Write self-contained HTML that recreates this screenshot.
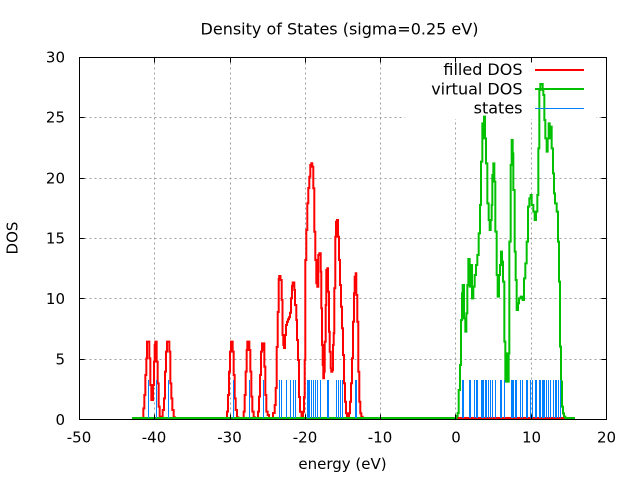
<!DOCTYPE html>
<html>
<head>
<meta charset="utf-8">
<style>
html,body{margin:0;padding:0;background:#fff;}
svg{display:block;}
text{font-family:"DejaVu Sans","Liberation Sans",sans-serif;fill:#000;}
</style>
</head>
<body>
<svg width="640" height="480" viewBox="0 0 640 480" xmlns="http://www.w3.org/2000/svg">
<rect x="0" y="0" width="640" height="480" fill="#fff"/>

<!-- grid -->
<g stroke="#a0a0a0" stroke-width="1" stroke-dasharray="2,3" fill="none">
  <path d="M154.5 57.5V419.5 M230.5 57.5V419.5 M305.5 57.5V419.5 M380.5 57.5V419.5 M455.5 57.5V419.5 M531.5 57.5V419.5"/>
  <path d="M79.5 359.5H606.5 M79.5 298.5H606.5 M79.5 238.5H606.5 M79.5 178.5H606.5 M79.5 117.5H606.5"/>
</g>

<!-- key background (opaque) -->
<rect x="405" y="58" width="191" height="61" fill="#fff"/>

<!-- filled DOS (red) -->
<g fill="none" stroke="#ff0000" stroke-width="2" stroke-linejoin="miter">
  <polyline points="132,418 575,418"/>
  <g transform="translate(125 330) scale(0.333333)">
    <polyline vector-effect="non-scaling-stroke" points="48,264 55,264 55,235 58,235 58,195 61,195 61,135 64,135 64,85 66,85 66,35 73,35 73,85 76,85 76,165 79,165 79,210 84,210 84,165 87,165 87,95 89,95 89,45 91,45 91,35 95,35 95,95 98,95 98,160 101,160 101,230 104,230 104,260 107,260 107,264 113,264 113,240 117,240 117,205 120,205 120,125 123,125 123,65 126,65 126,35 133,35 133,65 136,65 136,160 139,160 139,205 142,205 142,240 146,240 146,262 150,262 150,264"/>
    <polyline vector-effect="non-scaling-stroke" points="300,264 306,264 306,245 309,245 309,195 312,195 312,125 315,125 315,65 318,65 318,35 323,35 323,65 326,65 326,135 329,135 329,205 332,205 332,240 336,240 336,262 340,262 340,264"/>
    <polyline vector-effect="non-scaling-stroke" points="350,264 356,264 356,245 359,245 359,195 362,195 362,125 365,125 365,60 367,60 367,35 373,35 373,60 376,60 376,125 379,125 379,200 382,200 382,245 386,245 386,262 390,262 390,264"/>
    <polyline vector-effect="non-scaling-stroke" points="394,264 399,264 399,245 402,245 402,200 405,200 405,135 408,135 408,65 411,65 411,40 414,40 414,60 416,60 416,40 418,40 418,110 421,110 421,195 424,195 424,245 428,245 428,255 432,255 432,264 440,264"/>
  </g>
  <polyline points="271.7,418 273,418 273,413 274.7,413 274.7,405 275.7,405 275.7,388 276.7,388 276.7,347 277.7,347 277.7,312 278.7,312 278.7,279 279.2,279 279.2,276 280.5,276 280.5,280 281.7,280 281.7,300 282.5,300 282.5,335 283.3,335 283.3,345 284,345 284,348 285,348 285,335 286,335 286,325 287,325 287,321.7 288,321.7 288,319.3 289,319.3 289,317.3 290,317.3 290,312.7 291,312.7 291,298.3 292,298.3 292,286 292.7,286 292.7,282.5 294.3,282.5 294.3,290 295,290 295,305 296.3,305 296.3,320 297,320 297,340 298,340 298,360 299,360 299,397 300,397 300,411.7 301.5,411.7 301.5,416.7 303,416.7 303,411.7 304,411.7 304,397 304.7,397 304.7,360 305.3,360 305.3,260 306.3,260 306.3,230 307.3,230 307.3,203.3 308.3,203.3 308.3,188 309.3,188 309.3,176.7 310.3,176.7 310.3,165 311.3,165 311.3,163.3 312.3,163.3 312.3,166.7 313.3,166.7 313.3,188.3 314.3,188.3 314.3,231.7 315.3,231.7 315.3,260 316.3,260 316.3,283.3 317.3,283.3 317.3,286.7 318.3,286.7 318.3,255 319.3,255 319.3,253.3 320.7,253.3 320.7,271.7 321.3,271.7 321.3,308.3 322,308.3 322,345 322.7,345 322.7,365 323.3,365 323.3,378.3 324,378.3 324,371.7 324.7,371.7 324.7,341.7 325.7,341.7 325.7,305 326.3,305 326.3,270 327.3,270 327.3,268.3 328,268.3 328,291.7 329,291.7 329,331.7 329.7,331.7 329.7,351.7 330.7,351.7 330.7,368.3 331.3,368.3 331.3,371.7 332.3,371.7 332.3,370 333,370 333,345 333.7,345 333.7,333.3 334.3,333.3 334.3,288.3 335.3,288.3 335.3,236.7 336,236.7 336,221.7 337,221.7 337,220 338,220 338,236.7 339,236.7 339,260 340,260 340,285 341,285 341,306.7 342,306.7 342,328.3 343,328.3 343,355 344,355 344,383.3 345,383.3 345,401.7 346,401.7 346,413.3 347,413.3 347,416.7 349,416.7 349,413.3 350,413.3 350,401.7 351,401.7 351,383.3 352,383.3 352,358.3 353,358.3 353,321.7 354,321.7 354,293.3 354.7,293.3 354.7,276.7 355.7,276.7 355.7,273.3 356.3,273.3 356.3,295 357.3,295 357.3,321.7 358.3,321.7 358.3,371.7 359.3,371.7 359.3,401.7 360.3,401.7 360.3,413.3 361.3,413.3 361.3,416.7 362.7,416.7 362.7,418 364,418"/>
</g>

<!-- virtual DOS (green) -->
<g fill="none" stroke="#00c000" stroke-width="2" transform="translate(450 105) scale(0.333333)">
  <polyline vector-effect="non-scaling-stroke" points="-954,939 12,939 20,939 20,933 23,933 23,924 26,924 26,855 30,855 30,780 33,780 33,645 36,645 36,565 38,565 38,540 42,540 42,640 46,640 46,680 49,680 49,625 52,625 52,540 55,540 55,462 59,462 59,545 63,545 63,480 66,480 66,580 70,580 70,545 74,545 74,510 78,510 78,480 82,480 82,450 86,450 86,385 90,385 90,300 93,300 93,170 97,170 97,55 100,55 100,100 102,100 102,35 105,35 105,100 108,100 108,175 112,175 112,295 116,295 116,345 119,345 119,375 122,375 122,345 125,345 125,300 127,300 127,210 130,210 130,175 133,175 133,230 136,230 136,380 140,380 140,510 143,510 143,575 147,575 147,510 150,510 150,480 153,480 153,440 156,440 156,470 159,470 159,530 163,530 163,710 166,710 166,830 169,830 169,745 172,745 172,830 176,830 176,745 178,745 178,410 182,410 182,180 185,180 185,105 188,105 188,145 190,145 190,255 194,255 194,440 197,440 197,525 200,525 200,615 204,615 204,595 207,595 207,580 212,580 212,575 218,575 218,585 222,585 222,520 226,520 226,475 230,475 230,410 234,410 234,305 238,305 238,280 242,280 242,270 245,270 245,300 250,300 250,320 254,320 254,345 258,345 258,320 262,320 262,270 265,270 265,130 268,130 268,-45 271,-45 271,-63 278,-63 278,-45 280,-45 280,-30 283,-30 283,45 286,45 286,100 290,100 290,140 293,140 293,100 296,100 296,55 299,55 299,100 302,100 302,65 305,65 305,130 309,130 309,205 312,205 312,265 315,265 315,295 320,295 320,320 324,320 324,410 327,410 327,530 330,530 330,725 333,725 333,830 336,830 336,905 339,905 339,925 342,925 342,935 346,935 346,939 375,939"/>
</g>

<!-- states (blue sticks) -->
<path fill="none" stroke="#0080ff" stroke-width="1" d="
M148.5 418V380 M156.5 418V380 M168.5 418V380 M233.5 418V380 M249.5 418V380 M263.5 418V380
M279.5 418V380 M281.5 418V380 M286.5 418V380 M290.5 418V380 M293.5 418V380 M295.5 418V380
M307.5 418V380 M308.5 418V380 M309.5 418V380 M311.5 418V380 M313.5 418V380 M315.5 418V380 M317.5 418V380 M320.5 418V380
M327.5 418V380 M328.5 418V380 M336.5 418V380 M338.5 418V380 M340.5 418V380 M342.5 418V380 M355.5 418V380 M356.5 418V380
M462.5 418V380 M463.5 418V380 M469.5 418V380 M470.5 418V380 M474.5 418V380 M476.5 418V380 M477.5 418V380
M481.5 418V380 M482.5 418V380 M483.5 418V380 M485.5 418V380 M486.5 418V380 M488.5 418V380 M490.5 418V380 M492.5 418V380
M495.5 418V380 M500.5 418V380 M501.5 418V380 M504.5 418V380 M511.5 418V380 M512.5 418V380 M513.5 418V380 M515.5 418V380
M516.5 418V380 M520.5 418V380 M522.5 418V380 M526.5 418V380 M527.5 418V380 M530.5 418V380 M532.5 418V380 M535.5 418V380
M536.5 418V380 M539.5 418V380 M540.5 418V380 M542.5 418V380 M543.5 418V380 M544.5 418V380 M546.5 418V380 M548.5 418V380
M550.5 418V380 M553.5 418V380 M555.5 418V380 M556.5 418V380 M558.5 418V380 M560.5 418V380"/>

<!-- border -->
<rect x="79.5" y="57.5" width="527" height="362" fill="none" stroke="#000" stroke-width="1"/>

<!-- ticks -->
<g stroke="#000" stroke-width="1" fill="none">
  <path d="M154.5 419.5v-5 M230.5 419.5v-5 M305.5 419.5v-5 M380.5 419.5v-5 M455.5 419.5v-5 M531.5 419.5v-5"/>
  <path d="M154.5 57.5v5 M230.5 57.5v5 M305.5 57.5v5 M380.5 57.5v5 M455.5 57.5v5 M531.5 57.5v5"/>
  <path d="M79.5 359.5h5 M79.5 298.5h5 M79.5 238.5h5 M79.5 178.5h5 M79.5 117.5h5"/>
  <path d="M606.5 359.5h-5 M606.5 298.5h-5 M606.5 238.5h-5 M606.5 178.5h-5 M606.5 117.5h-5"/>
</g>

<!-- y tick labels -->
<g font-size="15" text-anchor="end">
  <text x="65" y="425">0</text>
  <text x="65" y="364.5">5</text>
  <text x="65" y="304">10</text>
  <text x="65" y="243.5">15</text>
  <text x="65" y="183.5">20</text>
  <text x="65" y="122.5">25</text>
  <text x="65" y="62.5">30</text>
</g>

<!-- x tick labels -->
<g font-size="15" text-anchor="middle">
  <text x="79" y="442.5">-50</text>
  <text x="154" y="442.5">-40</text>
  <text x="229.5" y="442.5">-30</text>
  <text x="305" y="442.5">-20</text>
  <text x="380" y="442.5">-10</text>
  <text x="456" y="442.5">0</text>
  <text x="531.5" y="442.5">10</text>
  <text x="606.5" y="442.5">20</text>
</g>

<!-- axis labels -->
<text x="342.5" y="469" font-size="15" text-anchor="middle">energy (eV)</text>
<text transform="translate(17.5 238) rotate(-90)" font-size="15" text-anchor="middle">DOS</text>

<!-- title -->
<text x="339.5" y="34.3" font-size="16" text-anchor="middle">Density of States (sigma=0.25 eV)</text>

<!-- key -->
<g font-size="16" text-anchor="end">
  <text x="522.5" y="75">filled DOS</text>
  <text x="522.5" y="94.3">virtual DOS</text>
  <text x="522.5" y="113.5">states</text>
</g>
<path d="M535 70H584" stroke="#ff0000" stroke-width="2"/>
<path d="M535 89H584" stroke="#00c000" stroke-width="2"/>
<path d="M535 108.5H584" stroke="#0080ff" stroke-width="1"/>
</svg>
</body>
</html>
